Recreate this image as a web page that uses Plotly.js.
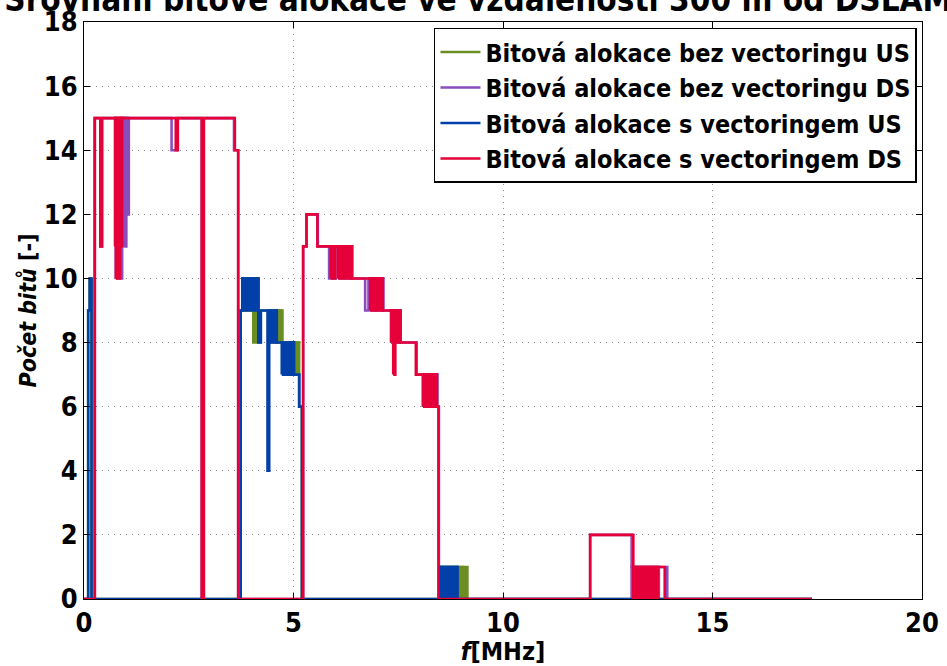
<!DOCTYPE html>
<html>
<head>
<meta charset="utf-8">
<script src="https://cdn.plot.ly/plotly-3.0.1.min.js"></script>
<style>
  html, body { margin: 0; padding: 0; background: #fff; }
  #chart { width: 947px; height: 666px; }
</style>
</head>
<body>
<div id="chart"></div>
<script>
// Bit allocation per frequency band. Each series is a list of band edges [MHz]
// with the lowest and highest bit count loaded in that band; where lo == hi the
// allocation is flat, otherwise the tones toggle between the two values.

// Bitová alokace bez vectoringu US
const usNoVectF  = [0, 0.10, 0.135, 0.18, 3.74, 3.78, 4.04, 4.10, 4.16, 4.22, 4.43, 4.73, 4.76, 5.13, 5.20, 8.50, 9.05, 9.10, 9.15, 17.37];
const usNoVectLo = [0, 9,    10,    0,    9,    9,    8,    9,    8,    9,    8,    8,    7,    6,    0,    0,    0,    1,    0,    0];
const usNoVectHi = [0, 9,    10,    0,    9,    10,   8,    10,   8,    9,    9,    8,    8,    6,    0,    1,    0,    1,    0,    0];

// Bitová alokace bez vectoringu DS
const dsNoVectF  = [0, 0.25, 0.39, 0.43, 0.76, 0.91, 0.95, 1.01, 1.07, 2.09, 2.21, 2.81, 2.86, 3.58, 3.68, 5.23, 5.31, 5.58, 5.85, 5.89, 6.00, 6.07, 6.40, 6.71, 6.79, 6.83, 7.14, 7.33, 7.55, 7.94, 8.09, 8.43, 8.47, 12.08, 13.07, 13.72, 13.92, 17.37];
const dsNoVectLo = [0, 15,   11,   15,   10,   12,   11,   12,   15,   14,   15,   0,    15,   14,   0,    11,   12,   11,   10,   10,   11,   10,   10,   9,    10,   9,    9,    8,    8,    7,    6,    6,    0,    2,     0,     1,     0,     0];
const dsNoVectHi = [0, 15,   11,   15,   15,   15,   15,   15,   15,   14,   15,   0,    15,   14,   0,    11,   12,   11,   10,   11,   11,   11,   10,   9,    10,   10,   9,    9,    8,    7,    7,    6,    0,    2,     1,     1,     0,     0];

// Bitová alokace s vectoringem US
const usVectF  = [0, 0.10, 0.135, 0.18, 3.74, 3.78, 4.16, 4.22, 4.38, 4.42, 4.60, 4.72, 5.01, 5.14, 5.20, 8.50, 8.91, 17.37];
const usVectLo = [0, 9,    10,    0,    9,    9,    8,    9,    4,    8,    8,    7,    7,    6,    0,    0,    0,    0];
const usVectHi = [0, 9,    10,    0,    9,    10,   8,    9,    4,    9,    8,    8,    7,    6,    0,    1,    0,    0];

// Bitová alokace s vectoringem DS
const dsVectF  = [0, 0.26, 0.39, 0.43, 0.74, 0.76, 0.86, 0.91, 2.19, 2.24, 2.81, 2.86, 3.60, 3.68, 5.23, 5.31, 5.57, 5.89, 6.00, 6.07, 6.39, 6.83, 7.13, 7.33, 7.38, 7.43, 7.55, 7.92, 8.09, 8.42, 8.46, 12.08, 13.11, 13.70, 13.86, 17.37];
const dsVectLo = [0, 15,   11,   15,   11,   10,   11,   15,   14,   15,   0,    15,   14,   0,    11,   12,   11,   10,   11,   10,   10,   9,    9,    8,    7,    8,    8,    7,    6,    6,    0,    2,     0,     1,     0,     0];
const dsVectHi = [0, 15,   11,   15,   15,   15,   15,   15,   14,   15,   0,    15,   14,   0,    11,   12,   11,   11,   11,   11,   10,   10,   9,    9,    9,    9,    8,    7,    7,    6,    0,    2,     1,     1,     0,     0];

const seriesNames  = [
  'Bitová alokace bez vectoringu US',
  'Bitová alokace bez vectoringu DS',
  'Bitová alokace s vectoringem US',
  'Bitová alokace s vectoringem DS'
];
const seriesColors = ['#6b8e23', '#8b4cbc', '#0040a8', '#e6003a'];

const xTicks = [0, 5, 10, 15, 20];
const yTicks = [0, 2, 4, 6, 8, 10, 12, 14, 16, 18];

const FONT = '"DejaVu Sans Condensed", "DejaVu Sans", sans-serif';
const LW = 2.6;

// Flat steps drawn as an hv line; toggling bands drawn as filled blocks.
function seriesTraces(f, lo, hi, name, color) {
  const step = {
    type: 'scatter', mode: 'lines', name: name,
    x: f, y: hi,
    line: { color: color, width: LW, shape: 'hv' },
    hoverinfo: 'skip'
  };
  const bx = [], by = [];
  for (let i = 0; i < f.length - 1; i++) {
    if (lo[i] !== hi[i]) {
      bx.push(f[i], f[i + 1], f[i + 1], f[i], f[i], null);
      by.push(lo[i], lo[i], hi[i], hi[i], lo[i], null);
    }
  }
  const band = {
    type: 'scatter', mode: 'lines', showlegend: false,
    x: bx, y: by, fill: 'toself', fillcolor: color,
    line: { color: color, width: LW },
    hoverinfo: 'skip'
  };
  return [step, band];
}

const data = [].concat(
  seriesTraces(usNoVectF, usNoVectLo, usNoVectHi, seriesNames[0], seriesColors[0]),
  seriesTraces(dsNoVectF, dsNoVectLo, dsNoVectHi, seriesNames[1], seriesColors[1]),
  seriesTraces(usVectF,   usVectLo,   usVectHi,   seriesNames[2], seriesColors[2]),
  seriesTraces(dsVectF,   dsVectLo,   dsVectHi,   seriesNames[3], seriesColors[3])
);

const axisCommon = {
  showline: true, linecolor: '#000', linewidth: 1, mirror: 'ticks',
  ticks: 'inside', ticklen: 6, tickcolor: '#000', tickwidth: 1,
  showgrid: true, gridcolor: '#8c8c8c', gridwidth: 1, griddash: '1px,5px',
  zeroline: false,
  tickfont: { family: FONT, size: 27, color: '#000', weight: 'bold' }
};

const layout = {
  width: 947, height: 666,
  margin: { l: 84, r: 25, t: 22, b: 67 },
  paper_bgcolor: '#fff', plot_bgcolor: '#fff',
  font: { family: FONT, color: '#000', weight: 'bold' },
  title: {
    text: 'Srovnání bitové alokace ve vzdálenosti 300 m od DSLAM',
    font: { family: FONT, size: 33, color: '#000', weight: 'bold' },
    xref: 'container', x: 0.505, xanchor: 'center',
    yref: 'container', y: 1 - 11 / 666, yanchor: 'bottom'
  },
  xaxis: Object.assign({}, axisCommon, {
    range: [0, 20], tickvals: xTicks, ticktext: xTicks.map(String),
    title: { text: '<i>f</i>[MHz]', standoff: 4,
             font: { family: FONT, size: 25, color: '#000', weight: 'bold' } }
  }),
  yaxis: Object.assign({}, axisCommon, {
    range: [0, 18], tickvals: yTicks, ticktext: yTicks.map(String),
    title: { text: '<i>Počet bitů</i> [-]', standoff: 0,
             font: { family: FONT, size: 23, color: '#000', weight: 'bold' } }
  }),
  legend: {
    x: 0.994, xanchor: 'right', y: 0.99, yanchor: 'top',
    bgcolor: '#fff', bordercolor: '#000', borderwidth: 1.5,
    font: { family: FONT, size: 25, color: '#000', weight: 'bold' },
    itemwidth: 40, tracegroupgap: 0
  },
  showlegend: true
};

Plotly.newPlot('chart', data, layout, { displayModeBar: false, staticPlot: true });
</script>
</body>
</html>
